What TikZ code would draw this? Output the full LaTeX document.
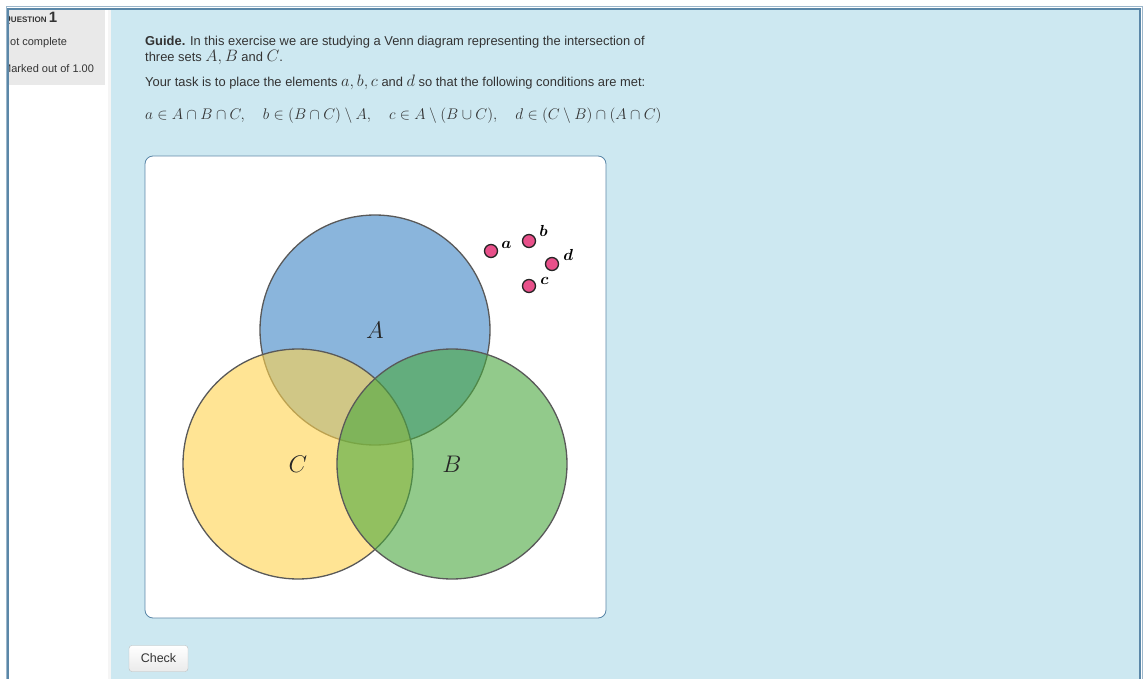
\RequirePackage{fix-cm}
\documentclass[tikz,border=0pt]{standalone}
\usepackage{amsmath}
\usepackage{fontspec}
\setmainfont{Liberation Sans}
\usetikzlibrary{positioning,calc}
\definecolor{frameblue}{HTML}{5B87A8}
\definecolor{pageblue}{HTML}{CDE8F1}
\definecolor{infogray}{HTML}{E9E9E9}
\definecolor{txtgray}{HTML}{333333}
\definecolor{setblue}{HTML}{3D85C6}
\definecolor{setyellow}{HTML}{FFD34D}
\definecolor{setgreen}{HTML}{4AA83E}
\definecolor{ptpink}{HTML}{E8508A}
\newcommand{\mth}[1]{{\fontsize{16.5}{16}\selectfont$#1$}}
\tikzset{
  setcircle/.style={circle, minimum size=230pt, inner sep=0pt, fill opacity=0.6, text opacity=1,
    draw=black!65, line width=1.3pt, text=black!85, font=\fontsize{24}{26}\selectfont},
  elem/.style={circle, minimum size=13pt, inner sep=0pt, fill=ptpink, draw=black!85, line width=1.3pt},
  elemlabel/.style={inner sep=0pt, text=black, font=\fontsize{16}{16}\selectfont},
  guidetext/.style={anchor=base west, inner sep=0pt, text=txtgray, font=\fontsize{12.9}{14}\selectfont},
  infotext/.style={anchor=base west, inner sep=0pt, text=txtgray, font=\fontsize{11}{12}\selectfont}
}
\begin{document}
\begin{tikzpicture}[x=1pt,y=-1pt]
\useasboundingbox (0,0) rectangle (1144,679);
\fill[white] (0,0) rectangle (1144,679);
\fill[pageblue] (111,10) rectangle (1139,679);
\fill[black!4] (108,10) rectangle (111,679);
\fill[infogray] (9,10) rectangle (105,85);
\begin{scope}
\clip (9,10) rectangle (105,85);
\node[infotext] (qhead) at (3,23) {\bfseries\fontsize{10}{9}\selectfont Q\fontsize{8}{7}\selectfont UESTION \fontsize{15}{13}\selectfont 1};
\node[infotext] (qstate) at (2,46) {Not complete};
\node[infotext] (qmark) at (2,73) {Marked out of 1.00};
\end{scope}
\draw[frameblue!60, line width=1pt] (6,679) -- (6,7) -- (1142,7) -- (1142,679);
\draw[frameblue, line width=2.5pt] (8,679) -- (8,9) -- (1140,9) -- (1140,679);

\node[guidetext] (guide1) at (145,46) {\textbf{Guide.} In this exercise we are studying a Venn diagram representing the intersection of};
\node[guidetext] (guide2) at (145,62) {three sets \mth{A, B} and \mth{C}.};
\node[guidetext] (task) at (145,87) {Your task is to place the elements \mth{a, b, c} and \mth{d} so that the following conditions are met:};
\node[guidetext, font=\fontsize{15.4}{16}\selectfont] (conds) at (145,120)
  {$a \in A\cap B\cap C,\quad b\in (B\cap C)\setminus A,\quad c\in A\setminus(B\cup C),\quad d\in(C\setminus B)\cap(A\cap C)$};

\draw[frameblue, fill=white, line width=0.8pt, rounded corners=8pt] (145,156) rectangle (606,618);

\node[setcircle, fill=setblue] (setA) at (375,330) {$A$};
\node[setcircle, fill=setyellow] (setC) at (298,464) {$C$};
\node[setcircle, fill=setgreen] (setB) at (452,464) {$B$};

\node[elem] (pta) at (491,251) {};
\node[elem] (ptb) at (529,241) {};
\node[elem] (ptd) at (552,264) {};
\node[elem] (ptc) at (529,286) {};
\node[elemlabel, above right=-3pt and 5pt of pta] (lbla) {$\boldsymbol{a}$};
\node[elemlabel, above right=-1pt and 5pt of ptb] (lblb) {$\boldsymbol{b}$};
\node[elemlabel, above right=-2pt and 6pt of ptd] (lbld) {$\boldsymbol{d}$};
\node[elemlabel, above right=-4pt and 6pt of ptc] (lblc) {$\boldsymbol{c}$};

\node[draw=black!25, rounded corners=3pt, top color=white, bottom color=black!8,
  minimum width=59pt, minimum height=26pt, inner sep=0pt, text=txtgray,
  font=\fontsize{12.5}{14}\selectfont] (check) at (158.5,658.5) {Check};
\end{tikzpicture}
\end{document}
